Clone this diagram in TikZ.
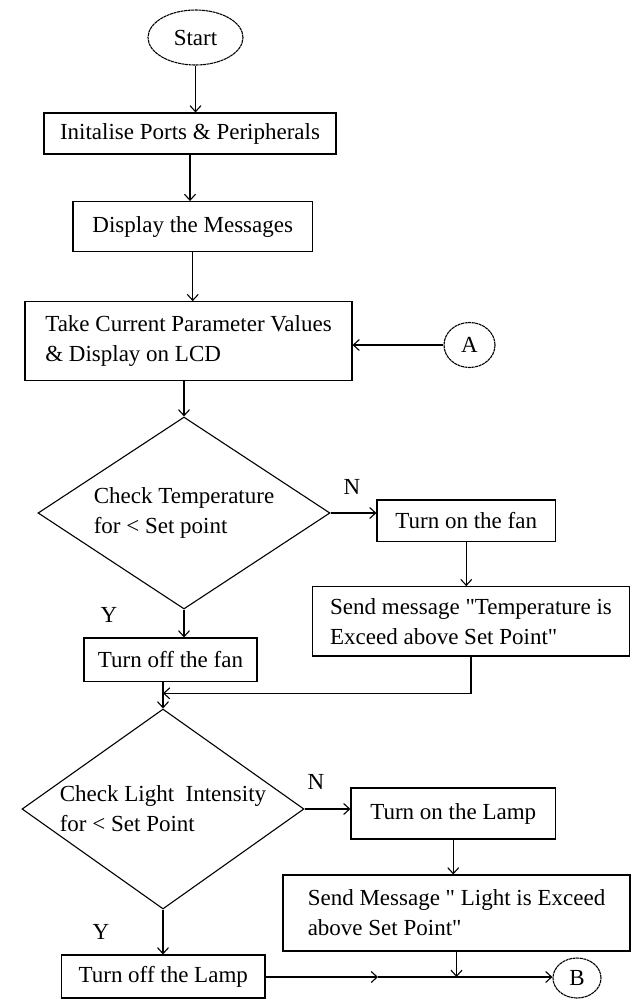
\documentclass[tikz,border=0pt]{standalone}
\usepackage{fontspec}
\setmainfont{Liberation Serif}
\usetikzlibrary{arrows.meta,shapes.geometric}

\begin{document}
\begin{tikzpicture}[x=1pt,y=1pt,line width=1.1pt,
  box/.style={draw,rectangle,inner sep=0pt,align=left},
  term/.style={draw,ellipse,inner sep=0pt,dash pattern=on 3pt off 0.6pt},
  cond/.style={draw,diamond,inner sep=0pt,align=left,shape aspect=1.5},
  flow/.style={-{Straight Barb[length=6pt,width=11pt]}},
  font=\fontsize{23}{30}\selectfont]
  \useasboundingbox (0,0) rectangle (631,-999);
  % horni cast
  \node[term,minimum width=95pt,minimum height=55pt] (start) at (195.5,-37.5) {Start};
  \node[box,minimum width=292pt,minimum height=41pt] (init) at (190,-133.5) {Initalise Ports \& Peripherals};
  \node[box,minimum width=239.5pt,minimum height=50pt] (disp) at (192.75,-226.6) {Display the Messages};
  \node[box,minimum width=327pt,minimum height=79pt] (take) at (188.5,-341.2) {Take Current Parameter Values\\\& Display on LCD};
  \node[term,minimum width=51pt,minimum height=45pt] (A) at (469.5,-345) {A};
  % teplota
  \node[cond,minimum width=292pt,minimum height=192pt] (d1) at (184,-513) {Check Temperature\\for < Set point};
  \node[box,minimum width=178.5pt,minimum height=41.7pt] (onfan) at (466.25,-520.85) {Turn on the fan};
  \node[box,minimum width=317pt,minimum height=69.3pt] (msg1) at (471,-621.35) {Send message \textquotedbl Temperature is\\Exceed above Set Point\textquotedbl};
  \node[box,minimum width=173pt,minimum height=43.7pt] (offfan) at (170.5,-659.85) {Turn off the fan};
  % svetlo
  \node[cond,minimum width=282pt,minimum height=200pt] (d2) at (163,-809) {Check Light\ \ Intensity\\for < Set Point};
  \node[box,minimum width=204.5pt,minimum height=51pt] (onlamp) at (453.25,-813.5) {Turn on the Lamp};
  \node[box,minimum width=347pt,minimum height=76pt] (msg2) at (456.5,-913) {Send Message \textquotedbl\ Light is Exceed\\above Set Point\textquotedbl};
  \node[box,minimum width=203.5pt,minimum height=43pt] (offlamp) at (163.25,-976.5) {Turn off the Lamp};
  \node[term,minimum width=48pt,minimum height=40pt] (B) at (577,-978) {B};
  % popisky vetvi
  \node (n1) at (352,-487) {N}; \node (y1) at (109,-615) {Y};
  \node (n2) at (316,-782) {N}; \node (y2) at (101,-932) {Y};
  % sipky
  \draw[flow] (start.south) -- (start.south |- init.north);
  \draw[flow] (init.south) -- (init.south |- disp.north);
  \draw[flow] (disp.south) -- (disp.south |- take.north);
  \draw[flow] (A.west) -- (A.west -| take.east);
  \draw[flow] (d1.north |- take.south) -- (d1.north);
  \draw[flow] (d1.east) -- (d1.east -| onfan.west);
  \draw[flow] (onfan.south) -- (onfan.south |- msg1.north);
  \draw[flow] (d1.south) -- (d1.south |- offfan.north);
  % spojeni vetvi
  \coordinate (m1) at (d2.north |- 0,-693.3);
  \draw[flow] (msg1.south) |- (m1);
  \draw[flow] (d2.north |- offfan.south) -- (d2.north);
  \draw[flow] (d2.east) -- (d2.east -| onlamp.west);
  \draw[flow] (onlamp.south) -- (onlamp.south |- msg2.north);
  \draw[flow] (d2.south) -- (d2.south |- offlamp.north);
  \coordinate (mid) at (378,-977);
  \draw[flow] (offlamp.east |- mid) -- (mid);
  \draw[flow] (mid) -- (mid -| B.west);
  \draw[flow] (msg2.south) -- (msg2.south |- mid);
\end{tikzpicture}
\end{document}
